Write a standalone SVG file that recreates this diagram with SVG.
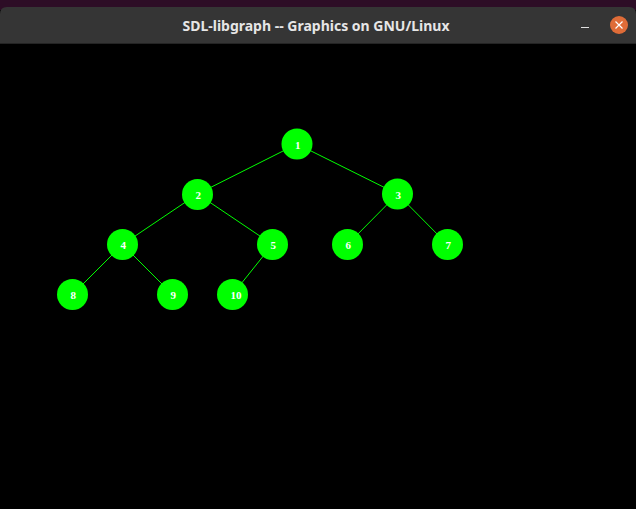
<svg xmlns="http://www.w3.org/2000/svg" width="636" height="509" viewBox="0 0 636 509">
<style>
.edge{stroke:#00ff00;stroke-width:1;fill:none}
.node circle{fill:#00ff00}
.node text{fill:#ffffff;font-family:"Liberation Serif",serif;font-weight:bold;font-size:11px}
</style>
<rect x="0" y="0" width="636" height="509" fill="#000000"/>
<rect x="0" y="0" width="636" height="10" fill="#2d0d26"/>
<path d="M0 14 Q0 7 7 7 L629 7 Q636 7 636 14 L636 43 L0 43 Z" fill="#353535"/>
<line x1="0" y1="43.5" x2="636" y2="43.5" stroke="#242424" stroke-width="1"/>
<text x="316" y="31" text-anchor="middle" font-family="'Noto Sans',sans-serif" font-weight="bold" font-size="14" fill="#e6e6e6">SDL-libgraph -- Graphics on GNU/Linux</text>
<line x1="581" y1="27.5" x2="589" y2="27.5" stroke="#e0e0e0" stroke-width="1"/>
<circle cx="619" cy="25" r="9" fill="#df6c38"/>
<path d="M615.5 21.5 L622.5 28.5 M622.5 21.5 L615.5 28.5" stroke="#ffffff" stroke-width="1.2"/>
<g id="connectors">
<line class="edge" x1="297" y1="144" x2="197.5" y2="194"/>
<line class="edge" x1="297" y1="144" x2="397.5" y2="194"/>
<line class="edge" x1="197.5" y1="194" x2="122.5" y2="244.5"/>
<line class="edge" x1="197.5" y1="194" x2="272.5" y2="244.5"/>
<line class="edge" x1="397.5" y1="194" x2="347.5" y2="244.5"/>
<line class="edge" x1="397.5" y1="194" x2="447.5" y2="244.5"/>
<line class="edge" x1="122.5" y1="244.5" x2="72.5" y2="294.5"/>
<line class="edge" x1="122.5" y1="244.5" x2="172.5" y2="294.5"/>
<line class="edge" x1="272.5" y1="244.5" x2="232.5" y2="294.5"/>
</g>
<g id="n1" class="node"><circle cx="297" cy="144" r="15.5"/><text x="295" y="148.5">1</text></g>
<g id="n2" class="node"><circle cx="197.5" cy="194.5" r="15.5"/><text x="195.5" y="199">2</text></g>
<g id="n3" class="node"><circle cx="397.5" cy="194" r="15.5"/><text x="395.5" y="198.5">3</text></g>
<g id="n4" class="node"><circle cx="122.5" cy="244.5" r="15.5"/><text x="120.5" y="249">4</text></g>
<g id="n5" class="node"><circle cx="272.5" cy="244.5" r="15.5"/><text x="270.5" y="249">5</text></g>
<g id="n6" class="node"><circle cx="347.5" cy="244.5" r="15.5"/><text x="345.5" y="249">6</text></g>
<g id="n7" class="node"><circle cx="447.5" cy="244.5" r="15.5"/><text x="445.5" y="249">7</text></g>
<g id="n8" class="node"><circle cx="72.5" cy="294.5" r="15.5"/><text x="70.5" y="299">8</text></g>
<g id="n9" class="node"><circle cx="172.5" cy="294.5" r="15.5"/><text x="170.5" y="299">9</text></g>
<g id="n10" class="node"><circle cx="232.5" cy="294.5" r="15.5"/><text x="230.5" y="299">10</text></g>
</svg>
